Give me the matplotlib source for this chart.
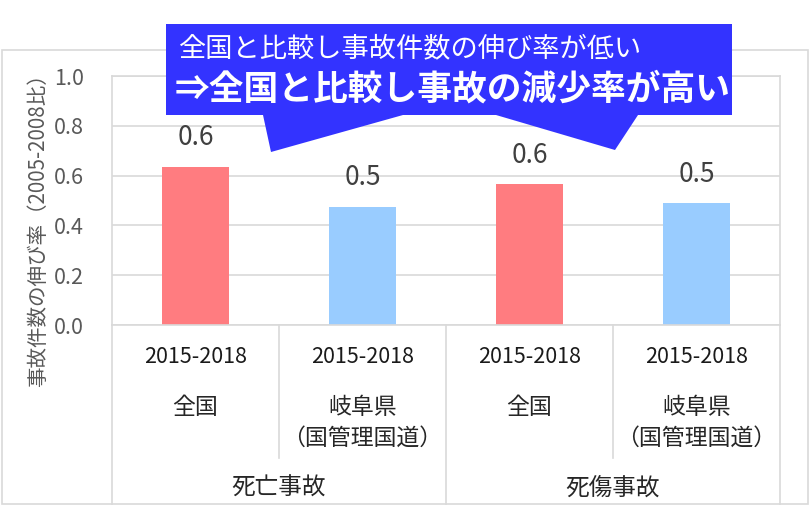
import numpy as np
import matplotlib.pyplot as plt
from matplotlib.patches import Polygon, Rectangle
from matplotlib.transforms import blended_transform_factory

plt.rcParams['font.family'] = ['Noto Sans CJK JP', 'DejaVu Sans']

# data
periods = ['2015-2018', '2015-2018', '2015-2018', '2015-2018']
regions = ['全国', '岐阜県\n（国管理国道）', '全国', '岐阜県\n（国管理国道）']
groups = ['死亡事故', '死傷事故']
values = [0.634, 0.474, 0.565, 0.488]
colors = ['#FF7C80', '#99CCFF', '#FF7C80', '#99CCFF']
yticks = [0.0, 0.2, 0.4, 0.6, 0.8, 1.0]

W, H = 810, 507
fig = plt.figure(figsize=(W / 100, H / 100), dpi=100)

def px(x, y):
    # pixel coords (y down) -> figure fraction
    return (x / W, 1 - y / H)

# outer chart border
fig.add_artist(Rectangle(px(2, 504), 806 / W, 454 / H, transform=fig.transFigure,
                         fill=False, edgecolor='#D9D9D9', linewidth=1.2, zorder=-1))

ax = fig.add_axes([112 / W, 1 - 325 / H, 668 / W, 249 / H])
x = np.arange(len(values))
ax.bar(x, values, width=0.4, color=colors, zorder=2)
ax.set_xlim(-0.5, len(values) - 0.5)
ax.set_ylim(0, 1.0)
ax.set_yticks(yticks)
ax.set_yticklabels(['%.1f' % v for v in yticks])
ax.tick_params(axis='y', length=0, pad=20, labelsize=15.5, labelcolor='#595959')
ax.set_xticks([])
ax.grid(axis='y', color='#D9D9D9', linewidth=1.2, zorder=0)
for s in ax.spines.values():
    s.set_color('#D9D9D9')
    s.set_linewidth(1.2)

# data labels
for xi, v in zip(x, values):
    ax.annotate('%.1f' % v, (xi, v), xytext=(0, 21), textcoords='offset points',
                ha='center', va='center', fontsize=19, color='#404040')

# multi-level category axis
tr = blended_transform_factory(ax.transData, fig.transFigure)
for xi, p, r in zip(x, periods, regions):
    ax.text(xi, 1 - 357 / H, p, transform=tr, ha='center', va='center', fontsize=15.5,
            color='#1A1A1A')
    lines = r.split('\n')
    for k, t in enumerate(lines):
        ax.text(xi, 1 - (407 + 31 * k) / H, t, transform=tr, ha='center', va='center',
                fontsize=16.5, color='#262626')
for g, name in enumerate(groups):
    ax.text(2 * g + 0.5, 1 - 488 / H, name, transform=tr, ha='center', va='center',
            fontsize=17, color='#262626')

for d in [-0.5, 0.5, 1.5, 2.5, 3.5]:
    bottom = 504 if d in (-0.5, 1.5, 3.5) else 458
    ax.plot([d, d], [1 - 325 / H, 1 - bottom / H], transform=tr, color='#D9D9D9',
            linewidth=1.2, clip_on=False)

# y axis title
fig.text(38 / W, 1 - 225 / H, '事故件数の伸び率（2005-2008比）', rotation=90,
         ha='center', va='center', fontsize=14.8, color='#595959')

# callout
pts = [(166, 24), (732, 24), (732, 115), (638, 115), (615, 150), (496, 115),
       (403, 115), (271, 152), (263, 115), (166, 115)]
fig.add_artist(Polygon([px(a, b) for a, b in pts], closed=True, transform=fig.transFigure,
                       facecolor='#3333FF', edgecolor='none', zorder=5))
fig.text(178 / W, 1 - 49 / H, '全国と比較し事故件数の伸び率が低い', ha='left', va='center',
         fontsize=19.6, color='white', zorder=6)
fig.text(175 / W, 1 - 89 / H, '⇒全国と比較し事故の減少率が高い', ha='left', va='center',
         fontsize=25, fontweight='bold', color='white', zorder=6)

fig.savefig('out.png', dpi=100)
